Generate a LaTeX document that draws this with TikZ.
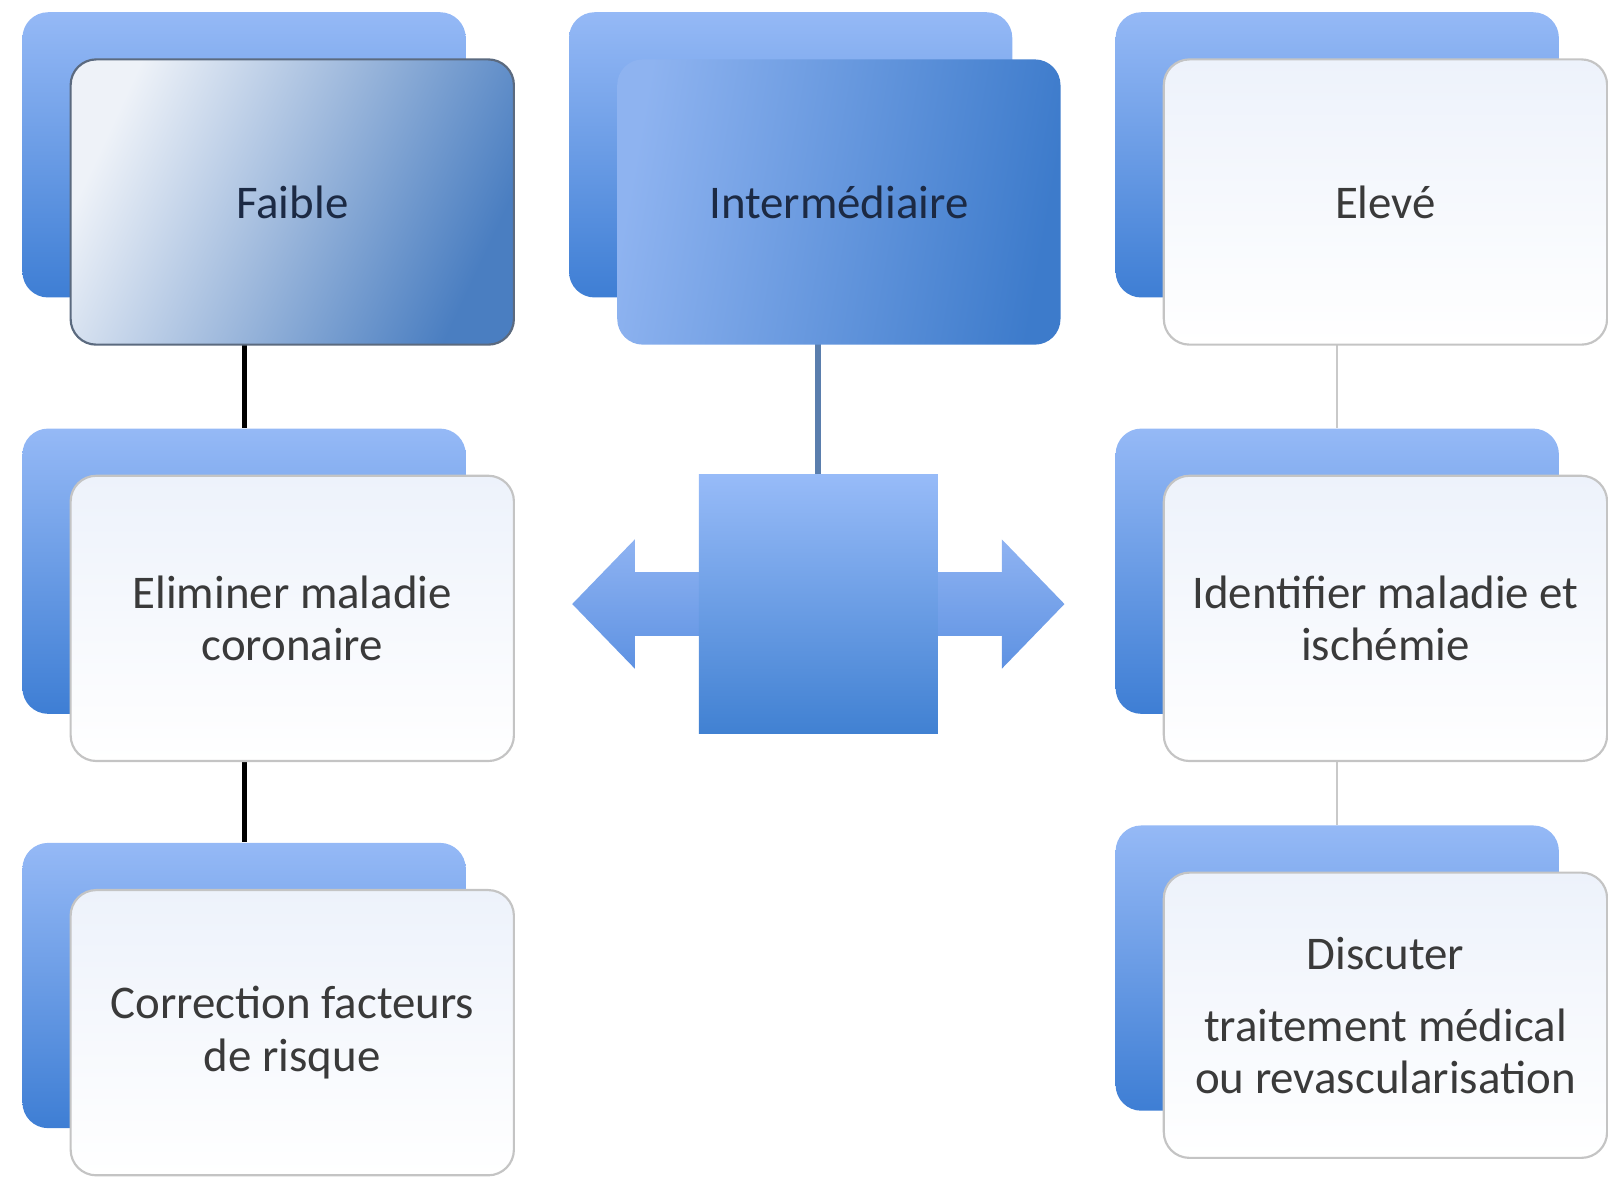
\documentclass[tikz,border=0pt]{standalone}
\usepackage{fontspec}
\setmainfont{Carlito}
\usepackage{xcolor}
\usepackage{tikz}
\usetikzlibrary{backgrounds}

\definecolor{cardtop}{HTML}{95B9F6}
\definecolor{cardbot}{HTML}{3E7ED4}
\definecolor{cardpale}{HTML}{EDF2FB}
\definecolor{cardline}{HTML}{C4C4C4}
\definecolor{cardtext}{HTML}{3A3A3A}
\definecolor{navytext}{HTML}{1C2A44}
\definecolor{lowL}{HTML}{EEF2F8}
\definecolor{lowM}{HTML}{9DB8DC}
\definecolor{lowR}{HTML}{4A7EC1}
\definecolor{lowline}{HTML}{5B6A7F}
\definecolor{midL}{HTML}{8EB3F0}
\definecolor{midR}{HTML}{3D7BCB}
\definecolor{hubtop}{HTML}{97BBF8}
\definecolor{hubbot}{HTML}{4181D2}
\definecolor{arrtop}{HTML}{8FB3F2}
\definecolor{arrbot}{HTML}{5E92E2}
\definecolor{linkmid}{HTML}{5A7EAD}
\definecolor{linkhigh}{HTML}{C9C9C9}

\begin{document}
\begin{tikzpicture}[
    x=0.01cm, y=-0.01cm,
    font=\fontsize{13}{14.5}\selectfont,
    backcard/.style={rectangle, rounded corners=0.25cm, minimum width=4.32cm, minimum height=2.78cm, top color=cardtop, bottom color=cardbot},
    card/.style={rectangle, rounded corners=0.25cm, minimum width=4.32cm, minimum height=2.78cm, align=center, draw=cardline, line width=0.6pt, top color=cardpale, bottom color=white, text=cardtext},
    lowcard/.style={card, draw=lowline, left color=lowL, right color=lowR, middle color=lowM, shading angle=65, text=navytext},
    midcard/.style={card, draw=none, left color=midL, right color=midR, shading angle=80, text=navytext},
    hubbox/.style={rectangle, inner sep=0pt, minimum width=2.33cm, minimum height=2.52cm, top color=hubtop, bottom color=hubbot},
    lowlink/.style={line width=1.4pt, color=black},
    midlink/.style={line width=1.7pt, color=linkmid},
    highlink/.style={line width=0.5pt, color=linkhigh}
]
\useasboundingbox (0,0) rectangle (1568,1148);

\foreach \n/\x/\y in {faibleB/238/151, elimB/238/557, corrB/238/961, interB/771/151, eleveB/1304/151, identB/1304/557, discB/1304/944}
    \node[backcard] (\n) at (\x,\y) {};

\node[lowcard] (faible) at (285,197) {Faible};
\node[card] (elim) at (285,603) {Eliminer maladie\\coronaire};
\node[card] (corr) at (285,1007) {Correction facteurs\\de risque};

\node[midcard] (inter) at (818,197) {Intermédiaire};

\node[card] (eleve) at (1351,197) {Elevé};
\node[card] (ident) at (1351,603) {Identifier maladie et\\ischémie};
\node[card] (disc) at (1351,990) {Discuter\\[5.5pt]traitement médical\\ou revascularisation};

\coordinate (hubc) at (798,589);
\shade[top color=arrtop, bottom color=arrbot, shift={(hubc)}] (-240,0) -- (-179,-63) -- (-179,-31) -- (179,-31) -- (179,-63) -- (240,0) -- (179,63) -- (179,31) -- (-179,31) -- (-179,63) -- cycle;
\node[hubbox] (hub) at (hubc) {};

\begin{scope}[on background layer]
\draw[lowlink] (faibleB) -- (elimB);
\draw[lowlink] (elimB) -- (corrB);
\draw[midlink] (hub.north) -- (hub.north |- interB.south);
\draw[highlink] (eleveB) -- (identB);
\draw[highlink] (identB) -- (discB);
\end{scope}

\end{tikzpicture}
\end{document}
